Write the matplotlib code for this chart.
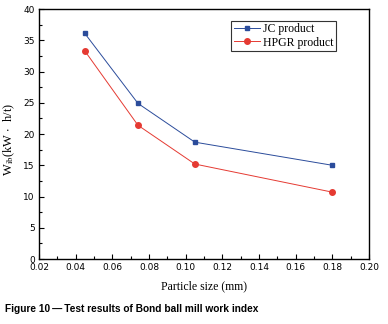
import matplotlib
matplotlib.use("Agg")
import matplotlib.pyplot as plt
from matplotlib.ticker import MultipleLocator

# Data
size_mm = [0.045, 0.074, 0.105, 0.18]
jc_wi = [36.1, 24.9, 18.7, 15.0]
hpgr_wi = [33.3, 21.4, 15.2, 10.7]

plt.rcParams['mathtext.fontset'] = 'stix'

fig = plt.figure(figsize=(3.88, 3.24), dpi=100)
ax = fig.add_axes([0.1005, 0.2006, 0.8505, 0.7714])

ax.plot(size_mm, jc_wi, color='#2b4c9b', marker='s', markersize=3.5,
        linewidth=0.7, label='JC product')
ax.plot(size_mm, hpgr_wi, color='#e53a32', marker='o', markersize=4,
        linewidth=0.7, label='HPGR product')

ax.set_xlim(0.02, 0.20)
ax.set_ylim(0, 40)
ax.xaxis.set_major_locator(MultipleLocator(0.02))
ax.xaxis.set_minor_locator(MultipleLocator(0.01))
ax.yaxis.set_major_locator(MultipleLocator(5))
ax.yaxis.set_minor_locator(MultipleLocator(2.5))
ax.set_xticklabels([f"{v:.2f}" for v in ax.get_xticks()])
ax.tick_params(which='both', direction='in', top=False, right=False,
               labelsize=6.5, width=0.8)
ax.tick_params(which='major', length=3.5, pad=3)
ax.tick_params(which='minor', length=2)
for s in ax.spines.values():
    s.set_linewidth(1.0)

ax.set_xlabel("Particle size (mm)", family='Liberation Serif', fontsize=8.5,
              labelpad=6)
ax.set_ylabel(r"W$_{\rm ib}$(kW $\cdot$  h/t)", family='Liberation Serif',
              fontsize=9, labelpad=4)
ax.yaxis.set_label_coords(-0.068, 0.48)

leg = ax.legend(loc='upper right', bbox_to_anchor=(0.9, 0.952),
                prop={'family': 'Liberation Serif', 'size': 8.5},
                fancybox=False, edgecolor='#333333', framealpha=1,
                handlelength=2.2, handletextpad=0.3, borderpad=0.2,
                labelspacing=0.1, borderaxespad=0)
leg.get_frame().set_linewidth(0.8)

fig.text(0.012, 0.037, "Figure 10\u2009\u2014\u2009Test results of Bond ball mill work index",
         family='Liberation Sans', fontweight='bold', fontsize=7.3)

fig.savefig("out.png", dpi=100)
